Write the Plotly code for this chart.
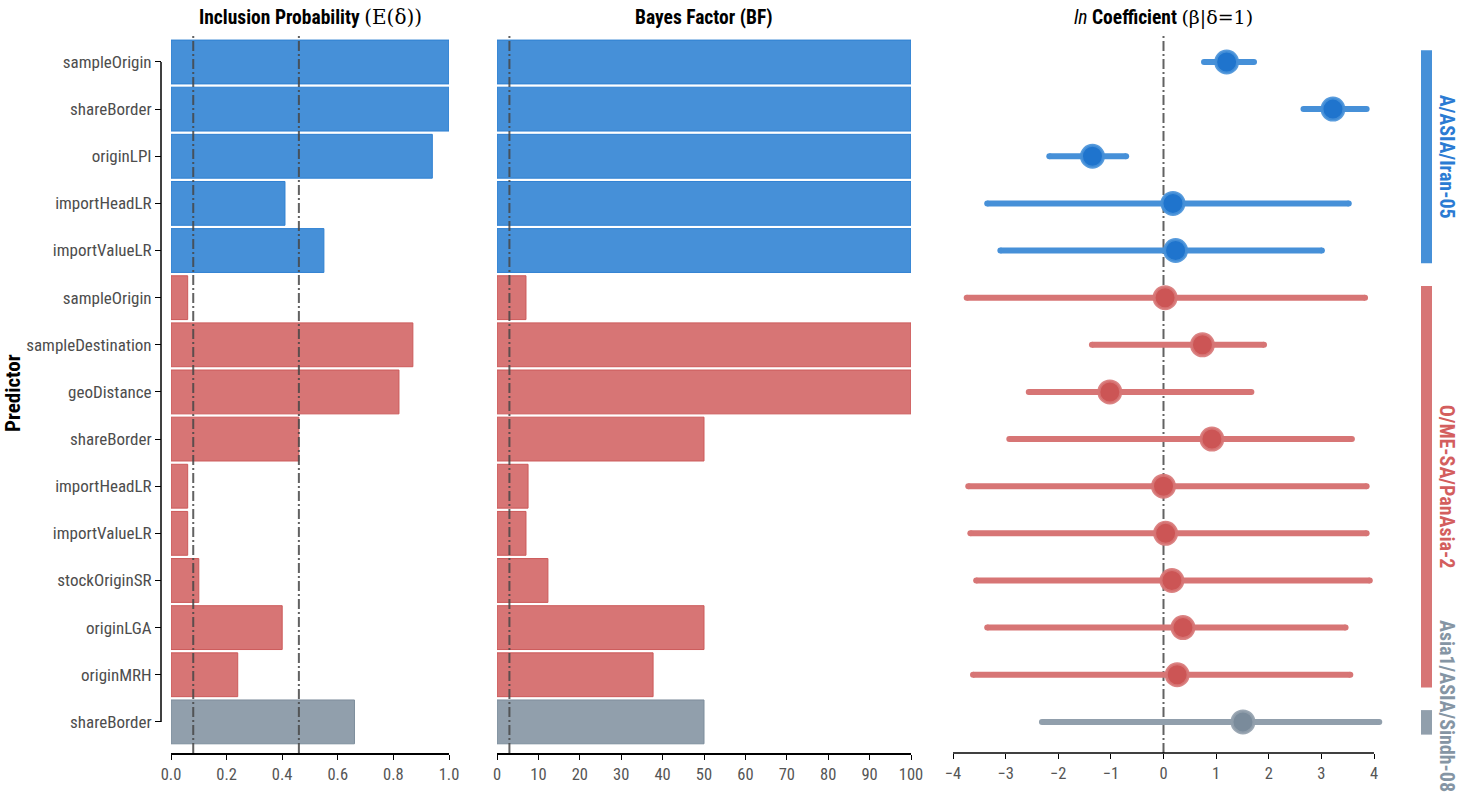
import plotly.graph_objects as go

# ---------------- data ----------------
predictors = ["sampleOrigin", "shareBorder", "originLPI", "importHeadLR", "importValueLR",
              "sampleOrigin", "sampleDestination", "geoDistance", "shareBorder", "importHeadLR",
              "importValueLR", "stockOriginSR", "originLGA", "originMRH", "shareBorder"]
groups = (["A/ASIA/Iran-05"] * 5 + ["O/ME-SA/PanAsia-2"] * 9 + ["Asia1/ASIA/Sindh-08"])
incl_prob = [1.0, 1.0, 0.94, 0.41, 0.55, 0.06, 0.87, 0.82, 0.46, 0.06, 0.06, 0.10, 0.40, 0.24, 0.66]
bayes_factor = [100, 100, 100, 100, 100, 7.0, 100, 100, 50, 7.5, 7.0, 12.3, 50, 37.7, 50]
coef_mean = [1.20, 3.22, -1.35, 0.18, 0.23, 0.03, 0.74, -1.02, 0.92, 0.00, 0.04, 0.16, 0.37, 0.26, 1.51]
coef_lo = [0.77, 2.66, -2.17, -3.35, -3.10, -3.74, -1.36, -2.56, -2.93, -3.71, -3.67, -3.56, -3.35, -3.62, -2.31]
coef_hi = [1.72, 3.86, -0.71, 3.52, 3.01, 3.83, 1.91, 1.67, 3.58, 3.86, 3.86, 3.92, 3.46, 3.55, 4.10]
prob_thresholds = [0.08, 0.46]
bf_thresholds = [3]
coef_reference = [0]
group_order = ["A/ASIA/Iran-05", "O/ME-SA/PanAsia-2", "Asia1/ASIA/Sindh-08"]
prob_ticks = [0, 0.2, 0.4, 0.6, 0.8, 1.0]
bf_ticks = [0, 10, 20, 30, 40, 50, 60, 70, 80, 90, 100]
coef_ticks = [-4, -3, -2, -1, 0, 1, 2, 3, 4]

# ---------------- styles ----------------
W, H = 1459, 794
fill = {"A/ASIA/Iran-05": "#4690d8", "O/ME-SA/PanAsia-2": "#d77575", "Asia1/ASIA/Sindh-08": "#919fac"}
edge = {"A/ASIA/Iran-05": "#2f80d2", "O/ME-SA/PanAsia-2": "#cc5a5a", "Asia1/ASIA/Sindh-08": "#7d8d9c"}
dot = {"A/ASIA/Iran-05": "#1f74cd", "O/ME-SA/PanAsia-2": "#cc5555", "Asia1/ASIA/Sindh-08": "#7a8b9b"}
ring = {"A/ASIA/Iran-05": "rgba(70,144,216,0.9)", "O/ME-SA/PanAsia-2": "rgba(215,117,117,0.9)",
        "Asia1/ASIA/Sindh-08": "rgba(145,159,172,0.9)"}
label_col = {"A/ASIA/Iran-05": "#2b7bd3", "O/ME-SA/PanAsia-2": "#d35e5e", "Asia1/ASIA/Sindh-08": "#8595a4"}
FONT = "Roboto Condensed, Liberation Sans Narrow, Roboto, sans-serif"

def px(x):
    return x / W

ydom = [41 / H, 761 / H]
rows = list(range(len(predictors)))
yrange = [14.66, -0.615]
row_px = (ydom[1] - ydom[0]) * H / (yrange[0] - yrange[1])

fig = go.Figure()

for g in group_order:
    idx = [i for i in rows if groups[i] == g]
    fig.add_trace(go.Bar(
        x=[incl_prob[i] for i in idx], y=idx, orientation="h", width=0.93,
        marker=dict(color=fill[g], line=dict(color=edge[g], width=1)),
        xaxis="x", yaxis="y", showlegend=False))
    fig.add_trace(go.Bar(
        x=[bayes_factor[i] for i in idx], y=idx, orientation="h", width=0.93,
        marker=dict(color=fill[g], line=dict(color=edge[g], width=1)),
        xaxis="x2", yaxis="y", showlegend=False))
    lx, ly = [], []
    for i in idx:
        lx += [coef_lo[i], coef_hi[i], None]
        ly += [i, i, None]
    fig.add_trace(go.Scatter(
        x=lx, y=ly, mode="lines+markers", line=dict(color=fill[g], width=6),
        marker=dict(color=fill[g], size=6), xaxis="x3", yaxis="y", showlegend=False,
        cliponaxis=False))
    fig.add_trace(go.Scatter(
        x=[coef_mean[i] for i in idx], y=idx, mode="markers",
        marker=dict(color=dot[g], size=22, line=dict(color=ring[g], width=3)),
        xaxis="x3", yaxis="y", showlegend=False, cliponaxis=False))

dash_line = dict(color="rgba(70,70,70,0.85)", width=2, dash="10px,3px,2px,3px")
shapes = []
for t in prob_thresholds:
    shapes.append(dict(type="line", xref="x", yref="paper", x0=t, x1=t, y0=ydom[0], y1=ydom[1],
                       line=dash_line, layer="above"))
for t in bf_thresholds:
    shapes.append(dict(type="line", xref="x2", yref="paper", x0=t, x1=t, y0=ydom[0], y1=ydom[1],
                       line=dash_line, layer="above"))
for t in coef_reference:
    shapes.append(dict(type="line", xref="x3", yref="paper", x0=t, x1=t, y0=ydom[0], y1=ydom[1],
                       line=dash_line, layer="below"))
# y axis line (capped between first and last category)
shapes.append(dict(type="line", xref="paper", yref="y", x0=px(161), x1=px(161), y0=rows[0], y1=rows[-1],
                   line=dict(color="black", width=1.5)))
# coefficient x axis line (capped at tick range)
shapes.append(dict(type="line", xref="x3", yref="paper", x0=coef_ticks[0], x1=coef_ticks[-1],
                   y0=ydom[0], y1=ydom[0], line=dict(color="black", width=1.5)))

annotations = []
# group strips and labels
label_half_len = {"A/ASIA/Iran-05": 62, "O/ME-SA/PanAsia-2": 84, "Asia1/ASIA/Sindh-08": 86}
for g in group_order:
    idx = [i for i in rows if groups[i] == g]
    y0, y1 = idx[0] - 0.25, idx[-1] + 0.27
    shapes.append(dict(type="rect", xref="paper", yref="y", x0=px(1421), x1=px(1432), y0=y0, y1=y1,
                       fillcolor=fill[g], line=dict(width=0)))
    # keep label inside the figure: limit its centre so the text ends above the bottom edge
    ymax_row = yrange[0] + (41 - 2 - label_half_len[g]) / row_px
    yc = min((y0 + y1) / 2, ymax_row)
    annotations.append(dict(xref="paper", yref="y", x=px(1447), y=yc, text="<b>%s</b>" % g,
                            textangle=90, showarrow=False, xanchor="center", yanchor="middle",
                            font=dict(family=FONT, size=20, color=label_col[g])))

title_font = dict(family=FONT, size=19.5, color="black")
ty = 1 - 17 / H
annotations += [
    dict(xref="paper", yref="paper", x=px(310), y=ty, showarrow=False, xanchor="center", yanchor="middle",
         text="<b>Inclusion Probability </b><span style='font-family:DejaVu Serif;font-size:20px'>(E(δ))</span>",
         font=title_font),
    dict(xref="paper", yref="paper", x=px(704), y=ty, showarrow=False, xanchor="center", yanchor="middle",
         text="<b>Bayes Factor (BF)</b>", font=title_font),
    dict(xref="paper", yref="paper", x=px(1163), y=ty, showarrow=False, xanchor="center", yanchor="middle",
         text="<i>ln</i> <b>Coefficient</b> <span style='font-family:DejaVu Serif;font-size:19px'>(β|δ=1)</span>",
         font=title_font),
    dict(xref="paper", yref="paper", x=px(13), y=(ydom[0] + ydom[1]) / 2, showarrow=False,
         xanchor="center", yanchor="middle",
         text="<b>Predictor</b>", textangle=-90, font=dict(family=FONT, size=21, color="black")),
]

xcommon = dict(ticks="outside", ticklen=5, tickcolor="black", showgrid=False, zeroline=False,
               anchor="y", automargin=False,
               tickfont=dict(family=FONT, size=16.5, color="#555555"))

fig.update_layout(
    width=W, height=H, margin=dict(l=0, r=0, t=0, b=0, autoexpand=False),
    plot_bgcolor="white", paper_bgcolor="white", barmode="overlay",
    xaxis=dict(domain=[px(171), px(449)], range=[0, 1], tickvals=prob_ticks,
               tickformat=".1f", showline=True, linecolor="black", linewidth=1.5, **xcommon),
    xaxis2=dict(domain=[px(497), px(911)], range=[0, 100], tickvals=bf_ticks,
                showline=True, linecolor="black", linewidth=1.5, **xcommon),
    xaxis3=dict(domain=[px(953 - 0.2 * 52.6), px(1374 + 0.2 * 52.6)], range=[-4.2, 4.2],
                tickvals=coef_ticks, showline=False, **xcommon),
    yaxis=dict(domain=ydom, range=yrange, anchor="free", position=px(161),
               tickvals=rows, ticktext=predictors, ticks="outside", ticklen=6, tickcolor="black",
               showline=False, showgrid=False, zeroline=False, automargin=False,
               tickfont=dict(family=FONT, size=17, color="#4d4d4d")),
    shapes=shapes, annotations=annotations,
)

fig.write_html("out.html")
